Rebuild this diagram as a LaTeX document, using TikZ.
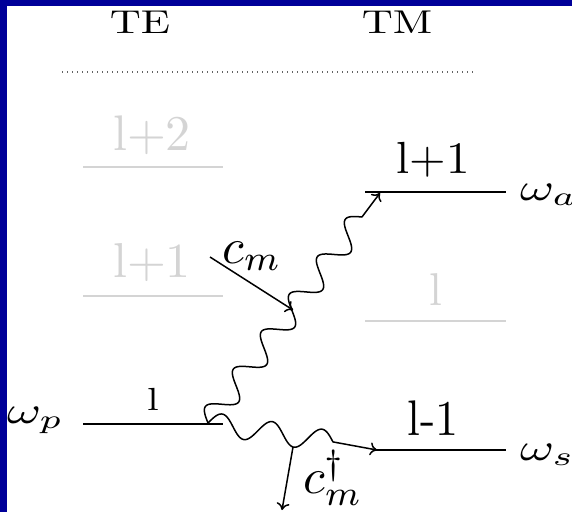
\documentclass[tikz,border=0pt]{standalone}
\usepackage{graphicx}
\usetikzlibrary{arrows.meta}
\definecolor{frameblue}{RGB}{0,0,153}
\definecolor{faint}{RGB}{212,212,212}
\definecolor{dotgray}{RGB}{100,100,100}
\newcommand{\scaledmath}[3]{\scalebox{#1}[#2]{$#3$}}
\newcommand{\scaledtext}[3]{\scalebox{#1}[#2]{#3}}
\begin{document}
\begin{tikzpicture}[x=1pt,y=-1pt,
  txt/.style={anchor=base,inner sep=0pt},
  mlbl/.style={anchor=base west,inner sep=0pt},
  levelline/.style={line width=1.8pt},
  faintline/.style={line width=1.8pt,draw=faint},
  tip/.style={-{To[length=7pt,width=13pt]}},
  conn/.style={line width=1.5pt,line join=round}
]
\useasboundingbox (0,0) rectangle (572,512);
\fill[frameblue] (0,0) rectangle (572,512);
\fill[white] (7,6) rectangle (572,512);

% headers
\node[txt] (te) at (140,33) {\scaledtext{4.3}{3.3}{TE}};
\node[txt] (tm) at (397,33) {\scaledtext{4.3}{3.3}{TM}};
\coordinate (dl) at (62,72);
\coordinate (dr) at (475,72);
\draw[dotgray,line width=1.3pt,dash pattern=on 1.3pt off 3.7pt] (dl) -- (dr);

% TE levels
\coordinate (tea1) at (83,167); \coordinate (tea2) at (223,167);
\draw[faintline] (tea1) -- (tea2);
\node[txt,text=faint] (tel2) at (152,150) {\scaledtext{5}{5}{l+2}};
\coordinate (teb1) at (83,296); \coordinate (teb2) at (223,296);
\draw[faintline] (teb1) -- (teb2);
\node[txt,text=faint] (tel1) at (152,277) {\scaledtext{5}{4.9}{l+1}};
\coordinate (tec1) at (83,424); \coordinate (tec2) at (223,424);
\draw[levelline] (tec1) -- (tec2);
\node[txt] (tel0) at (153,410) {\scaledtext{4.2}{3.2}{l}};
\node[mlbl] (wp) at (7,423) {\scaledmath{5.2}{3.8}{\omega_p}};

% TM levels
\coordinate (tma1) at (365,192); \coordinate (tma2) at (506,192);
\draw[levelline] (tma1) -- (tma2);
\node[txt] (tml1) at (433,173) {\scaledtext{4.7}{4.5}{l+1}};
\node[mlbl] (wa) at (520,200) {\scaledmath{5.2}{3.8}{\omega_a}};
\coordinate (tmb1) at (365,321); \coordinate (tmb2) at (506,321);
\draw[faintline] (tmb1) -- (tmb2);
\node[txt,text=faint] (tml0) at (436,305) {\scaledtext{4.6}{4.6}{l}};
\coordinate (tmc1) at (375,450); \coordinate (tmc2) at (506,450);
\draw[levelline] (tmc1) -- (tmc2);
\node[txt] (tmlm) at (433,435) {\scaledtext{4.6}{5}{l-1}};
\node[mlbl] (ws) at (520,460) {\scaledmath{5.2}{3.8}{\omega_s}};

% processes
\coordinate (start) at (208,423);
\coordinate (upend) at (380,193);
\coordinate (lowend) at (377,450);
\coordinate (junc) at (293,447);
\coordinate (cmfrom) at (210,257);
\coordinate (cmto) at (293,310);
\coordinate (cmdto) at (282,510);
% pump photon to anti-Stokes (wavy, 5.5 periods, then straight)
\draw[conn,tip,shift={(start)}]
  plot[domain=0:5.5,samples=240,variable=\t]
  ({154*\t/5.5 - 12*0.801*sin(\t*360)}, {-206*\t/5.5 - 12*0.599*sin(\t*360)})
  -- (upend);
% pump photon to Stokes (wavy, 2.5 periods, then straight)
\draw[conn,tip,shift={(start)}]
  plot[domain=0:2.5,samples=120,variable=\t]
  ({125*\t/2.5 + 11*0.150*sin(\t*360)}, {19*\t/2.5 - 11*0.989*sin(\t*360)})
  -- (lowend);
\draw[conn,tip] (cmfrom) -- (cmto);
\draw[conn,tip] (junc) -- (cmdto);
\node[mlbl] (cm) at (222,263) {\scaledmath{5}{5}{c_m}};
\node[mlbl] (cmd) at (303,493) {\scaledmath{5}{5}{c_m^\dagger}};
\end{tikzpicture}
\end{document}
